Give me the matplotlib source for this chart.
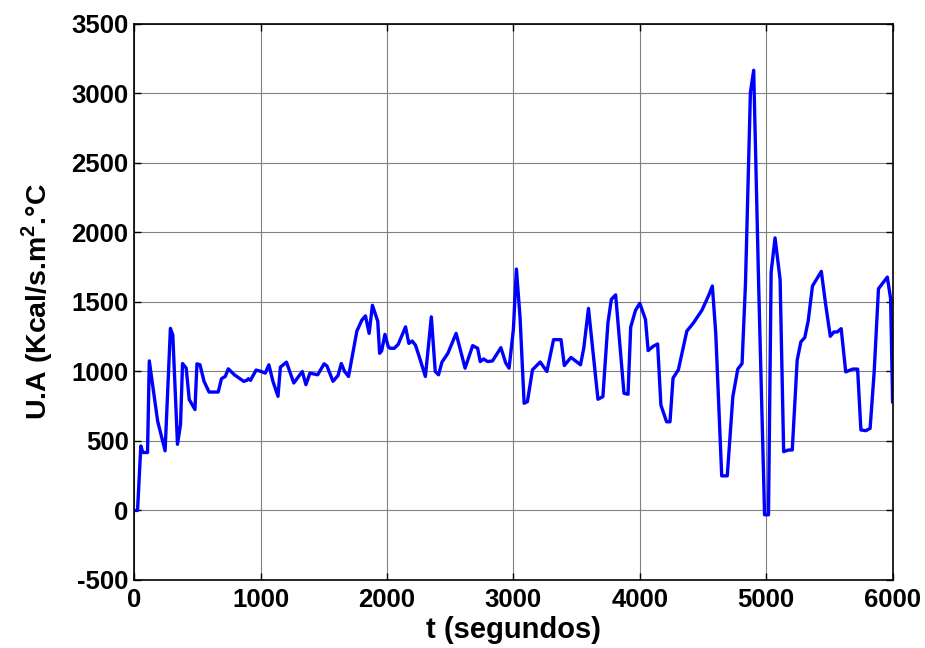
import matplotlib.pyplot as plt

# data
t = [0, 27, 53, 69, 106, 120, 186, 245, 287, 306, 343, 367, 383, 412, 436, 481,
     497, 521, 553, 593, 665, 691, 721, 745, 793, 867, 891, 904, 920, 965, 1005,
     1037, 1066, 1098, 1138, 1157, 1205, 1263, 1330, 1359, 1391, 1452, 1503, 1525,
     1573, 1613, 1639, 1665, 1696, 1762, 1801, 1830, 1859, 1885, 1927, 1942, 1958,
     1984, 2010, 2024, 2058, 2089, 2147, 2173, 2199, 2225, 2251, 2304, 2351, 2382,
     2408, 2435, 2482, 2547, 2618, 2678, 2717, 2738, 2764, 2796, 2835, 2901, 2940,
     2966, 3000, 3024, 3053, 3085, 3111, 3151, 3212, 3265, 3318, 3377, 3403, 3456,
     3531, 3557, 3594, 3669, 3708, 3748, 3775, 3809, 3875, 3907, 3928, 3966, 4000,
     4045, 4066, 4106, 4141, 4167, 4212, 4239, 4263, 4305, 4372, 4425, 4491, 4543,
     4574, 4601, 4648, 4692, 4736, 4775, 4809, 4836, 4875, 4901, 4940, 4987, 5018,
     5039, 5070, 5110, 5138, 5175, 5206, 5245, 5274, 5305, 5332, 5366, 5436, 5470,
     5507, 5535, 5561, 5593, 5629, 5684, 5723, 5749, 5789, 5822, 5854, 5888, 5958,
     5984, 6000]
ua = [0, 0, 464, 417, 417, 1076, 643, 429, 1310, 1262, 476, 619, 1057, 1024, 798, 726,
      1055, 1048, 929, 852, 852, 948, 964, 1019, 976, 929, 936, 948, 936, 1010, 1000,
      988, 1048, 929, 821, 1031, 1067, 917, 1000, 905, 988, 976, 1055, 1040,
      929, 971, 1057, 1000, 964, 1290, 1369, 1400, 1274, 1476, 1362, 1131, 1148,
      1267, 1179, 1167, 1167, 1195, 1321, 1202, 1219, 1190, 1119, 964, 1393, 1000,
      976, 1067, 1131, 1274, 1024, 1186, 1167, 1071, 1090, 1071, 1076, 1171, 1060,
      1024, 1302, 1737, 1386, 771, 783, 1012, 1068, 1000, 1229, 1229, 1043, 1101,
      1048, 1169, 1454, 800, 819, 1350, 1519, 1551, 843, 836, 1319, 1440, 1490,
      1374, 1150, 1181, 1198, 758, 638, 638, 952, 1012, 1290, 1350, 1440, 1543,
      1615, 1273, 249, 249, 818, 1017, 1057, 1631, 3007, 3167, 1631, -31, -31,
      1715, 1961, 1660, 423, 435, 435, 1081, 1213, 1244, 1363, 1615, 1720, 1483,
      1253, 1284, 1284, 1308, 997, 1017, 1017, 579, 574, 591, 997, 1595, 1679,
      1524, 782]

xticks = [0, 1000, 2000, 3000, 4000, 5000, 6000]
yticks = [-500, 0, 500, 1000, 1500, 2000, 2500, 3000, 3500]

plt.rcParams['font.family'] = ['Liberation Sans', 'DejaVu Sans']
plt.rcParams['font.weight'] = 'bold'
plt.rcParams['axes.unicode_minus'] = False
plt.rcParams['mathtext.fontset'] = 'custom'
plt.rcParams['mathtext.bf'] = 'Liberation Sans:bold'

fig = plt.figure(figsize=(9.25, 6.48), dpi=100)
ax = fig.add_axes([0.145, 0.105, 0.82, 0.858])

ax.plot(t, ua, color='#0000ff', linewidth=2.4)

ax.set_xlim(0, 6000)
ax.set_ylim(-500, 3500)
ax.set_xticks(xticks)
ax.set_yticks(yticks)
ax.grid(True, color='#808080', linewidth=0.8)
ax.tick_params(direction='in', length=5, width=1, top=True, right=True,
               labelsize=18.5)
ax.tick_params(axis='x', pad=6)
ax.tick_params(axis='y', pad=4)
for lab in ax.get_xticklabels() + ax.get_yticklabels():
    lab.set_fontweight('bold')
for s in ax.spines.values():
    s.set_linewidth(1.2)

ax.set_xlabel('t (segundos)', fontsize=21, fontweight='bold', labelpad=3)
ax.set_ylabel(r'U.A (Kcal/s.m$^\mathbf{2}$.°C', fontsize=20.5, fontweight='bold',
              labelpad=12)

plt.savefig('out.png', dpi=100)
